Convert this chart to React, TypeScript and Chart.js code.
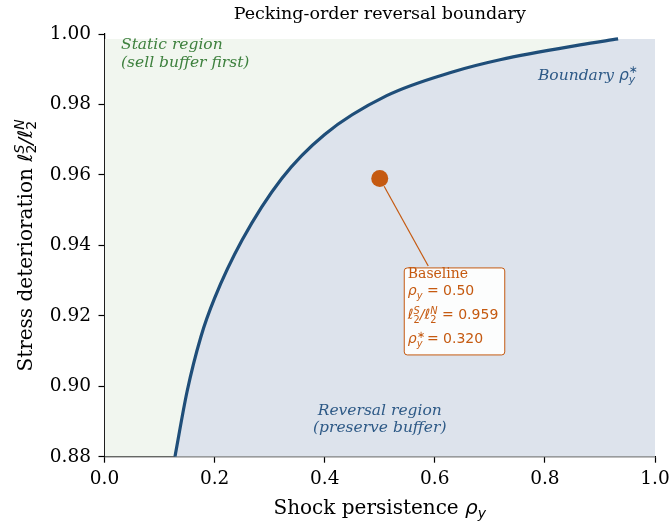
import React, { useEffect, useRef } from "react";
import { Chart, registerables } from "chart.js";
Chart.register(...registerables);

// ---- data ----
const BOUNDARY_RHO = [0.128, 0.15, 0.175, 0.2, 0.25, 0.322, 0.4, 0.5126, 0.6336, 0.7184, 0.8638, 0.933];
const BOUNDARY_RATIO = [0.88, 0.8985, 0.914, 0.925, 0.9415, 0.959, 0.9715, 0.9825, 0.9893, 0.9927, 0.9969, 0.9986];
const BASELINE_RHO = [0.5];
const BASELINE_RATIO = [0.959];
const BASELINE_TEXT = { rho: "0.50", ratio: "0.959", rhoStar: "0.320" };
const X_TICKS = [0, 0.2, 0.4, 0.6, 0.8, 1.0];
const Y_TICKS = [0.88, 0.9, 0.92, 0.94, 0.96, 0.98, 1.0];
const TITLE = "Pecking-order reversal boundary";

// ---- styles ----
const CURVE = "#1f4e79";
const GREEN_BG = "#f1f6ef";
const BLUE_BG = "#dde3ec";
const ORANGE = "#c55a11";
const GREEN_TXT = "#3d803d";
const BLUE_TXT = "#2d5986";
const SERIF = '"DejaVu Serif"';
const SANS = '"DejaVu Sans"';
const X_MIN_AXIS = 0, X_MAX_AXIS = 1, Y_MIN_AXIS = 0.88, Y_MAX_AXIS = 1.0;

type Seg = { t: string; font: string; dy?: number; adv?: boolean };
const sf = (t: string, s: number): Seg => ({ t, font: `${s}px ${SERIF}` });
const sfi = (t: string, s: number): Seg => ({ t, font: `italic ${s}px ${SERIF}` });
const mi = (t: string, s: number, dy = 0, adv = true): Seg => ({ t, font: `italic ${s}px ${SANS}`, dy, adv });
const mr = (t: string, s: number, dy = 0, adv = true): Seg => ({ t, font: `${s}px ${SANS}`, dy, adv });

function rich(ctx: CanvasRenderingContext2D, segs: Seg[], x: number, y: number, align: "left" | "center" | "right") {
  let w = 0;
  for (const s of segs) {
    ctx.font = s.font;
    if (s.adv !== false) w += ctx.measureText(s.t).width;
  }
  let cx = align === "center" ? x - w / 2 : align === "right" ? x - w : x;
  ctx.textAlign = "left";
  ctx.textBaseline = "alphabetic";
  for (const s of segs) {
    ctx.font = s.font;
    ctx.fillText(s.t, cx, y + (s.dy || 0));
    if (s.adv !== false) cx += ctx.measureText(s.t).width;
  }
  return w;
}
const rhoY = (s: number): Seg[] => [mi("ρ", s), mi("y", s * 0.7, s * 0.22)];
const rhoYStar = (s: number): Seg[] => [mi("ρ", s), mr("∗", s * 0.7, -s * 0.42, false), mi("y", s * 0.7, s * 0.22)];
const ellRatio = (s: number): Seg[] => [
  mi("ℓ", s), mr("2", s * 0.7, s * 0.22, false), mi("S", s * 0.7, -s * 0.42),
  mi("/", s),
  mi("ℓ", s), mr("2", s * 0.7, s * 0.22, false), mi("N", s * 0.7, -s * 0.42),
];

const textPlugin = {
  id: "texts",
  afterDatasetsDraw(chart: any) {
    const ctx: CanvasRenderingContext2D = chart.ctx;
    const xs = chart.scales.x, ys = chart.scales.y;
    const top = ys.getPixelForValue(Y_MAX_AXIS), bottom = ys.getPixelForValue(Y_MIN_AXIS);
    ctx.save();
    // region labels
    ctx.fillStyle = GREEN_TXT;
    const sx = xs.getPixelForValue(0.03);
    rich(ctx, [sfi("Static region", 15.5)], sx, top + 15.3, "left");
    rich(ctx, [sfi("(sell buffer first)", 15.5)], sx, top + 32.7, "left");
    ctx.fillStyle = BLUE_TXT;
    const cx = xs.getPixelForValue(0.5);
    rich(ctx, [sfi("Reversal region", 15.5)], cx, bottom - 41.7, "center");
    rich(ctx, [sfi("(preserve buffer)", 15.5)], cx, bottom - 24.7, "center");
    rich(ctx, [sfi("Boundary ", 15.5), ...rhoYStar(15.5)], xs.getPixelForValue(0.964), top + 46, "right");

    // annotation
    const px = xs.getPixelForValue(BASELINE_RHO[0]);
    const py = ys.getPixelForValue(BASELINE_RATIO[0]);
    const bx = px + 24.5, by = py + 89.5, bw = 100.5, bh = 87;
    const ex = bx + 24, ey = by - 2;
    const ang = Math.atan2(ey - py, ex - px);
    ctx.strokeStyle = ORANGE;
    ctx.lineWidth = 1.2;
    ctx.beginPath();
    ctx.moveTo(px + Math.cos(ang) * 9, py + Math.sin(ang) * 9);
    ctx.lineTo(ex, ey);
    ctx.stroke();
    ctx.fillStyle = "rgba(255,255,255,0.9)";
    ctx.beginPath();
    (ctx as any).roundRect(bx, by, bw, bh, 3);
    ctx.fill();
    ctx.lineWidth = 1;
    ctx.stroke();
    ctx.fillStyle = ORANGE;
    const tx = bx + 3.5;
    const fs = 14;
    rich(ctx, [sf("Baseline", fs)], tx, by + 10, "left");
    rich(ctx, [...rhoY(fs), mr(" = " + BASELINE_TEXT.rho, fs)], tx, by + 27.5, "left");
    rich(ctx, [...ellRatio(fs), mr(" = " + BASELINE_TEXT.ratio, fs)], tx, by + 51.5, "left");
    rich(ctx, [...rhoYStar(fs), mr(" = " + BASELINE_TEXT.rhoStar, fs)], tx, by + 75.5, "left");
    ctx.restore();
  },
  afterDraw(chart: any) {
    const ctx: CanvasRenderingContext2D = chart.ctx;
    const ca = chart.chartArea;
    const mx = (ca.left + ca.right) / 2;
    const my = (ca.top + ca.bottom) / 2;
    ctx.save();
    ctx.fillStyle = "#000";
    rich(ctx, [sf(TITLE, 17.5)], mx, 19, "center");
    rich(ctx, [sf("Shock persistence ", 20), ...rhoY(20)], mx, 513.5, "center");
    ctx.translate(32, my);
    ctx.rotate(-Math.PI / 2);
    rich(ctx, [sf("Stress deterioration ", 20), ...ellRatio(20)], 0, 0, "center");
    ctx.restore();
  },
};

export default function App() {
  const ref = useRef<HTMLCanvasElement>(null);
  useEffect(() => {
    document.body.style.margin = "0";
    const boundary = BOUNDARY_RHO.map((x, i) => ({ x, y: BOUNDARY_RATIO[i] }));
    const yTop = BOUNDARY_RATIO[BOUNDARY_RATIO.length - 1];
    const chart = new Chart(ref.current!, {
      type: "line",
      data: {
        datasets: [
          {
            data: BASELINE_RHO.map((x, i) => ({ x, y: BASELINE_RATIO[i] })),
            showLine: false,
            pointRadius: 8.5,
            pointBackgroundColor: ORANGE,
            pointBorderColor: ORANGE,
            pointBorderWidth: 0,
            order: 0,
          } as any,
          {
            data: boundary,
            borderColor: CURVE,
            borderWidth: 3.2,
            pointRadius: 0,
            cubicInterpolationMode: "monotone",
            fill: false,
            order: 1,
          },
          {
            data: [...boundary, { x: X_MAX_AXIS, y: yTop }],
            borderWidth: 0,
            borderColor: "rgba(0,0,0,0)",
            backgroundColor: BLUE_BG,
            pointRadius: 0,
            cubicInterpolationMode: "monotone",
            fill: "start",
            order: 2,
          },
          {
            data: [{ x: X_MIN_AXIS, y: yTop }, { x: X_MAX_AXIS, y: yTop }],
            borderWidth: 0,
            borderColor: "rgba(0,0,0,0)",
            backgroundColor: GREEN_BG,
            pointRadius: 0,
            fill: "start",
            order: 3,
          },
        ],
      },
      options: {
        responsive: false,
        animation: false,
        events: [],
        layout: { autoPadding: false, padding: { left: 0, right: 15, top: 34, bottom: 0 } },
        plugins: { legend: { display: false }, tooltip: { enabled: false } },
        scales: {
          x: {
            type: "linear",
            min: X_MIN_AXIS,
            max: X_MAX_AXIS,
            afterBuildTicks: (s: any) => { s.ticks = X_TICKS.map((v) => ({ value: v })); },
            afterFit: (s: any) => { s.height = 65.3; s.paddingRight = 0; s.paddingLeft = 0; },
            ticks: {
              callback: (v: any) => Number(v).toFixed(1),
              color: "#000",
              font: { family: "DejaVu Serif", size: 18.5 },
              padding: 5,
              maxRotation: 0,
            },
            grid: { drawOnChartArea: false, drawTicks: true, tickLength: 6, tickWidth: 1.2, tickColor: "#000" },
            border: { display: true, color: "#000", width: 1.2 },
          },
          y: {
            type: "linear",
            min: Y_MIN_AXIS,
            max: Y_MAX_AXIS,
            afterBuildTicks: (s: any) => { s.ticks = Y_TICKS.map((v) => ({ value: v })); },
            afterFit: (s: any) => { s.width = 104.5; s.paddingTop = 0; s.paddingBottom = 0; },
            ticks: {
              callback: (v: any) => Number(v).toFixed(2),
              color: "#000",
              font: { family: "DejaVu Serif", size: 18.5 },
              padding: 7.5,
            },
            grid: { drawOnChartArea: false, drawTicks: true, tickLength: 6, tickWidth: 1.2, tickColor: "#000" },
            border: { display: true, color: "#000", width: 1.2 },
          },
        },
      },
      plugins: [textPlugin],
    } as any);
    return () => chart.destroy();
  }, []);
  return <canvas ref={ref} width={670} height={522} style={{ display: "block" }} />;
}
